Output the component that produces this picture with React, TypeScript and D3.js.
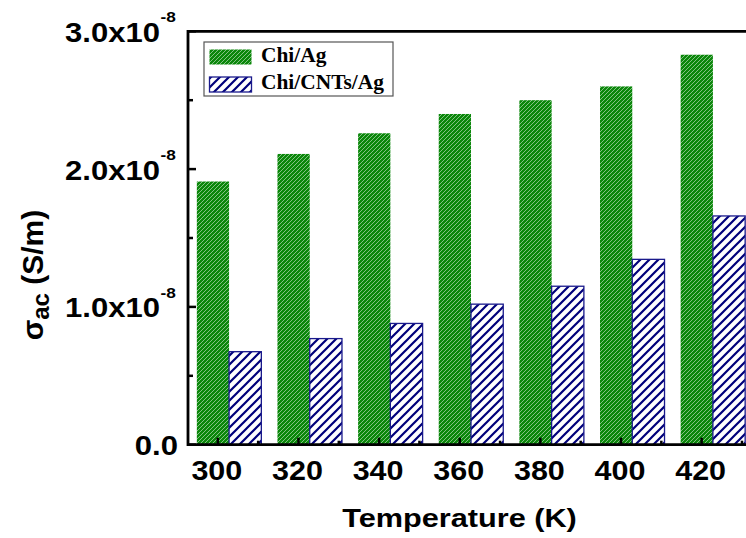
import * as d3 from "d3";
import { useEffect, useRef } from "react";

const temps = [300, 320, 340, 360, 380, 400, 420];
const chiAg = [1.91, 2.11, 2.26, 2.4, 2.5, 2.6, 2.83];
const chiCntsAg = [0.675, 0.77, 0.88, 1.02, 1.15, 1.345, 1.66];
const yTicks = [0, 1, 2, 3];
const yMinor = [0.5, 1.5, 2.5];
const seriesNames = ["Chi/Ag", "Chi/CNTs/Ag"];

const App = () => {
  const ref = useRef<SVGSVGElement>(null);

  useEffect(() => {
    d3.select(ref.current).selectAll("*").remove();

    const width = 746,
      height = 538;
    const left = 188,
      top = 31.3,
      bottom = 444.7;

    const svg = d3.select(ref.current);

    // hatch patterns
    const defs = svg.append("defs");
    const pg = defs
      .append("pattern")
      .attr("id", "hatchGreen")
      .attr("patternUnits", "userSpaceOnUse")
      .attr("width", 4)
      .attr("height", 4);
    pg.append("rect").attr("width", 4).attr("height", 4).attr("fill", "#0b870b");
    pg.append("path")
      .attr("d", "M0,4 L4,0 M-1,1 L1,-1 M3,5 L5,3")
      .attr("stroke", "#ffffff")
      .attr("stroke-opacity", 0.55)
      .attr("stroke-width", 0.9);

    const pb = defs
      .append("pattern")
      .attr("id", "hatchBlue")
      .attr("patternUnits", "userSpaceOnUse")
      .attr("width", 9)
      .attr("height", 9);
    pb.append("rect").attr("width", 9).attr("height", 9).attr("fill", "#ffffff");
    pb.append("path")
      .attr("d", "M0,9 L9,0 M-2,2 L2,-2 M7,11 L11,7")
      .attr("stroke", "#00007a")
      .attr("stroke-width", 2.2);

    // scales
    const x = d3.scaleLinear().domain([292.6, 431]).range([left, width]);
    const y = d3.scaleLinear().domain([0, 3]).range([bottom, top]);
    const barW = x(308) - x(300);

    // bars
    svg.append("g")
      .selectAll("rect")
      .data(temps)
      .join("rect")
      .attr("x", (d) => x(d) - 21)
      .attr("y", (d, i) => y(chiAg[i]))
      .attr("width", barW)
      .attr("height", (d, i) => y(0) - y(chiAg[i]))
      .attr("fill", "url(#hatchGreen)");

    svg.append("g")
      .selectAll("rect")
      .data(temps)
      .join("rect")
      .attr("x", (d) => x(d) - 21 + barW)
      .attr("y", (d, i) => y(chiCntsAg[i]))
      .attr("width", barW)
      .attr("height", (d, i) => y(0) - y(chiCntsAg[i]))
      .attr("fill", "url(#hatchBlue)")
      .attr("stroke", "#1a1a8c")
      .attr("stroke-width", 1.3);

    // ticks (inward)
    const ticks = svg.append("g").attr("stroke", "#000");
    temps.forEach((t) => {
      ticks.append("line")
        .attr("x1", x(t)).attr("x2", x(t))
        .attr("y1", bottom).attr("y2", bottom - 7)
        .attr("stroke-width", 2.5);
      ticks.append("line")
        .attr("x1", x(t + 10)).attr("x2", x(t + 10))
        .attr("y1", bottom).attr("y2", bottom - 4)
        .attr("stroke-width", 2.5);
    });
    yTicks.forEach((v) => {
      ticks.append("line")
        .attr("x1", left).attr("x2", left + 8)
        .attr("y1", y(v)).attr("y2", y(v))
        .attr("stroke-width", 2.5);
    });
    yMinor.forEach((v) => {
      ticks.append("line")
        .attr("x1", left).attr("x2", left + 5)
        .attr("y1", y(v)).attr("y2", y(v))
        .attr("stroke-width", 2.5);
    });

    // frame
    svg.append("path")
      .attr("d", `M${width + 5},${top} H${left} V${bottom} H${width + 5}`)
      .attr("fill", "none")
      .attr("stroke", "#000")
      .attr("stroke-width", 2.8);

    const font = "'Liberation Sans', Arial, sans-serif";

    // y tick labels
    yTicks.forEach((v) => {
      const g = svg.append("g")
        .attr("transform", `translate(${v === 0 ? 178 : 160},${y(v) + 10.5}) scale(1.15,1)`)
        .attr("font-family", font)
        .attr("font-weight", "bold");
      g.append("text")
        .attr("text-anchor", "end")
        .attr("font-size", 27)
        .text(v === 0 ? "0.0" : `${v.toFixed(1)}x10`);
      if (v !== 0) {
        g.append("text")
          .attr("x", 0.5)
          .attr("y", -19.5)
          .attr("font-size", 15)
          .text("-8");
      }
    });

    // x tick labels
    temps.forEach((t) => {
      svg.append("text")
        .attr("transform", `translate(${x(t) - 1},480) scale(1.09,1)`)
        .attr("text-anchor", "middle")
        .attr("font-family", font)
        .attr("font-weight", "bold")
        .attr("font-size", 28)
        .text(t);
    });

    // axis titles
    svg.append("text")
      .attr("transform", `translate(459.5,527) scale(1.18,1)`)
      .attr("text-anchor", "middle")
      .attr("font-family", font)
      .attr("font-weight", "bold")
      .attr("font-size", 26)
      .text("Temperature (K)");

    const yt = svg.append("text")
      .attr("transform", `translate(43,275) rotate(-90)`)
      .attr("text-anchor", "middle")
      .attr("font-family", font)
      .attr("font-weight", "bold")
      .attr("font-size", 30);
    yt.append("tspan").text("σ");
    yt.append("tspan").attr("font-size", 24).attr("dy", 6).text("ac");
    yt.append("tspan").attr("dy", -6).text(" (S/m)");

    // legend
    const lg = svg.append("g");
    lg.append("rect")
      .attr("x", 204).attr("y", 42)
      .attr("width", 189).attr("height", 54)
      .attr("fill", "#fff")
      .attr("stroke", "#555")
      .attr("stroke-width", 1.2);
    const fills = ["url(#hatchGreen)", "url(#hatchBlue)"];
    seriesNames.forEach((name, i) => {
      const sy = i === 0 ? 49.5 : 77;
      lg.append("rect")
        .attr("x", 209.5).attr("y", sy)
        .attr("width", 42).attr("height", 15)
        .attr("fill", fills[i])
        .attr("stroke", i === 0 ? "none" : "#1a1a8c")
        .attr("stroke-width", 1.3);
      lg.append("text")
        .attr("transform", `translate(261,${i === 0 ? 62 : 89}) scale(1.07,1)`)
        .attr("font-family", "'Liberation Serif', 'Times New Roman', serif")
        .attr("font-weight", "bold")
        .attr("font-size", 20)
        .text(name);
    });
  }, []);

  return (
    <svg
      ref={ref}
      width={746}
      height={538}
      style={{ position: "absolute", left: 0, top: 0, background: "#fff" }}
    />
  );
};

export default App;
